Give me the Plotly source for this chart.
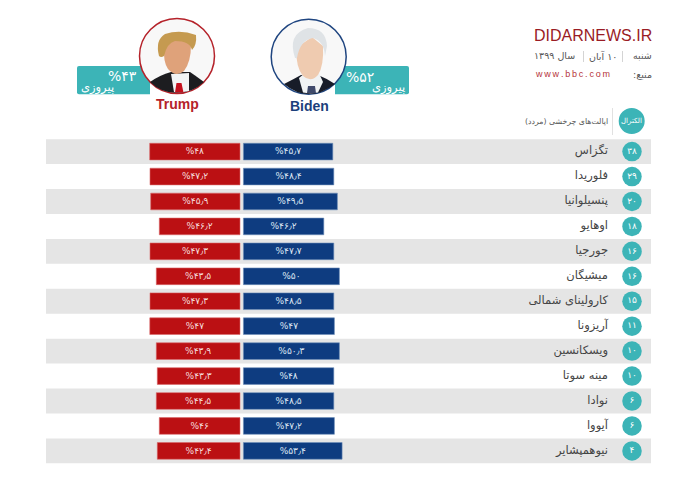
import plotly.graph_objects as go

W, H = 698, 483

states = ["تگزاس", "فلوریدا", "پنسیلوانیا", "اوهایو", "جورجیا", "میشیگان", "کارولینای شمالی",
          "آریزونا", "ویسکانسین", "مینه سوتا", "نوادا", "آیووا", "نیوهمپشایر"]
electoral = [38, 29, 20, 18, 16, 16, 15, 11, 10, 10, 6, 6, 4]
biden_labels = ["45.7", "48.4", "49.5", "46.2", "47.7", "50", "48.5", "47", "50.3", "48", "48.5", "47.2", "53.4"]
trump_labels = ["48", "47.2", "45.9", "46.2", "47.3", "43.5", "47.3", "47", "43.9", "43.3", "44.5", "46", "42.4"]
# Drawn bar lengths (they do not scale with the printed numbers)
biden_bars = [89.4, 90.4, 94, 80.4, 90.4, 96, 90.4, 91, 96, 90.4, 90.4, 91, 98.7]
trump_bars = [90.3, 90, 89.3, 80.7, 90, 83.7, 90, 90.2, 83.7, 82.7, 83.7, 80.7, 82.7]

RED, BLUE, TEAL, BAND = "#bb1013", "#0e3c80", "#3cb4b7", "#e5e5e5"
FA = "DejaVu Sans"
LAT = "Liberation Sans"


def fa(s):
    return str(s).translate(str.maketrans("0123456789", "۰۱۲۳۴۵۶۷۸۹")).replace(".", "٫")


ZERO = 241.7      # px position of the axis zero
ROW0, STEP = 151.6, 24.94
GAP = 1.7


def px(x):
    return x / W


def py(y):
    return 1 - y / H


def path(cmds):
    out = []
    for c in cmds:
        if isinstance(c, str):
            out.append(c)
        else:
            out.append(f"{px(c[0]):.5f},{py(c[1]):.5f}")
    return " ".join(out)


def pshape(cmds, fill, line=None, lw=0):
    return dict(type="path", xref="paper", yref="paper", path=path(cmds), fillcolor=fill,
                line=dict(color=line or fill, width=lw), layer="above")


def circle(cx, cy, r, fill, line=None, lw=0, layer="above"):
    return dict(type="circle", xref="paper", yref="paper", x0=px(cx - r), x1=px(cx + r),
                y0=py(cy + r), y1=py(cy - r), fillcolor=fill, line=dict(color=line or fill, width=lw), layer=layer)


def rect(x0, y0, x1, y1, fill, layer="below"):
    return dict(type="rect", xref="paper", yref="paper", x0=px(x0), x1=px(x1), y0=py(y1), y1=py(y0),
                fillcolor=fill, line=dict(width=0), layer=layer)


def text(x, y, s, size, color, anchor="center", font=FA, bold=False):
    return dict(xref="paper", yref="paper", x=px(x), y=py(y), text=f"<b>{s}</b>" if bold else s, showarrow=False,
                xanchor=anchor, yanchor="middle", align=anchor if anchor != "center" else "center",
                font=dict(size=size, color=color, family=font), borderpad=0, borderwidth=0)


fig = go.Figure()
fig.add_bar(y=states, x=[-v for v in trump_bars], base=-GAP, orientation="h", width=0.67,
            marker=dict(color=RED, line=dict(color="#d9686a", width=0.6)),
            text=["%" + fa(v) for v in trump_labels], textposition="inside", insidetextanchor="middle",
            textangle=0, textfont=dict(color="#f5dcdc", size=11, family=FA), hoverinfo="skip", cliponaxis=False)
fig.add_bar(y=states, x=biden_bars, base=GAP, orientation="h", width=0.67,
            marker=dict(color=BLUE, line=dict(color="#6f8fb8", width=0.6)),
            text=["%" + fa(v) for v in biden_labels], textposition="inside", insidetextanchor="middle",
            textangle=0, textfont=dict(color="#dbe5f2", size=11, family=FA), hoverinfo="skip", cliponaxis=False)
fig.add_scatter(y=states, x=[632 - ZERO] * len(states), mode="markers+text",
                marker=dict(size=19.5, color=TEAL), text=[fa(v) for v in electoral], textposition="middle center",
                textfont=dict(color="white", size=9, family=FA), hoverinfo="skip")
fig.add_scatter(y=states, x=[608 - ZERO] * len(states), mode="text", text=states, textposition="middle left",
                textfont=dict(color="#444444", size=11.5, family=FA), hoverinfo="skip")

shapes = []
for i in range(0, len(states), 2):
    c = ROW0 + STEP * i
    shapes.append(rect(46, c - 12.4, 651, c + 12.4, BAND))
shapes.append(rect(612, 108, 612.7, 135, "#d5d5d5"))

# Teal tabs
shapes.append(pshape(["M", (79, 66), "L", (150, 66), "L", (150, 94.3), "L", (79, 94.3), "Q", (77, 94.3), (77, 92.3),
                      "L", (77, 68), "Q", (77, 66), (79, 66), "Z"], TEAL))
shapes.append(pshape(["M", (335, 66), "L", (407, 66), "Q", (409, 66), (409, 68), "L", (409, 92.3), "Q", (409, 94.3), (407, 94.3),
                      "L", (335, 94.3), "Z"], TEAL))

# Trump portrait
tx, ty = 177, 56
shapes.append(circle(tx, ty, 37.5, "#f8f8f8", "#b5222a", 1.5))
shapes.append(pshape(["M", (150, 82), "Q", (160, 75), (171, 72), "L", (190, 72), "Q", (196, 76), (204, 82),
                      "Q", (192, 93), (177, 93), "Q", (161, 93), (150, 82), "Z"], "#1d1d20"))
shapes.append(pshape(["M", (171, 74), "L", (189, 73), "L", (189, 91), "Q", (180, 93), (174, 92), "Z"], "#f2f4f4"))
shapes.append(pshape(["M", (176.5, 83), "L", (181.5, 83), "L", (183.5, 92.5), "L", (175, 92.5), "Z"], "#c4121f"))
shapes.append(pshape(["M", (164, 46), "Q", (163, 62), (168, 69), "Q", (176, 78), (184, 71), "Q", (191, 62), (191, 45),
                      "L", (180, 36), "Z"], "#dfa27a"))
shapes.append(pshape(["M", (159, 56), "Q", (155, 40), (165, 34), "Q", (180, 29), (196, 35), "Q", (197, 45), (192, 50),
                      "Q", (190, 41), (175, 41), "Q", (167, 43), (164, 56), "Q", (161, 58), (159, 56), "Z"], "#c59a50"))

# Biden portrait
bx, by = 308.7, 56.7
shapes.append(circle(bx, by, 37.5, "#f8f8f8", "#1f4580", 1.5))
shapes.append(pshape(["M", (284, 84), "Q", (294, 79), (301, 75), "L", (318, 75), "Q", (328, 79), (335, 84),
                      "Q", (322, 94), (309, 94), "Q", (296, 94), (284, 84), "Z"], "#171c28"))
shapes.append(pshape(["M", (299, 78), "L", (305, 73), "L", (319, 73), "L", (323, 82), "L", (318, 92.5), "Q", (310, 94), (303, 92.5), "Z"], "#f0f3f4"))
shapes.append(pshape(["M", (308, 86), "L", (315, 86), "L", (316, 93), "L", (307, 93), "Z"], "#3f4a6b"))
shapes.append(pshape(["M", (296, 48), "Q", (296, 68), (303, 76), "Q", (311, 83), (318, 75), "Q", (324, 66), (323, 46),
                      "L", (312, 37), "Z"], "#efcbb0"))
shapes.append(pshape(["M", (295, 58), "Q", (287, 34), (308, 28), "Q", (326, 28), (327, 46), "L", (325, 56), "Q", (324, 41), (313, 38),
                      "Q", (300, 40), (297, 58), "Z"], "#dfe3e6"))

# Header badge
shapes.append(circle(631.7, 121, 13, TEAL))
# Date separators
shapes.append(rect(622.5, 51, 623, 62, "#aaaaaa"))
shapes.append(rect(583, 51, 583.5, 62, "#aaaaaa"))

ann = [
    text(122, 76, "%" + fa(43), 14, "white", font=FA),
    text(97, 87, "پیروزی", 11.5, "white"),
    text(360, 77, "%" + fa(52), 14, "white"),
    text(388, 87, "پیروزی", 11.5, "white"),
    text(177, 104, "Trump", 14, "#b5222a", font=LAT, bold=True),
    text(309, 105.5, "Biden", 14, "#1c3f7c", font=LAT, bold=True),
    text(652, 35.5, "DIDARNEWS.IR", 16, "#9a1c25", "right", font=LAT),
    text(652, 56, "شنبه", 9.5, "#555555", "right"),
    text(617, 56, "\u200f" + fa("10") + " آبان", 9.5, "#555555", "right"),
    text(575, 56, "سال " + fa("1399"), 9.5, "#555555", "right"),
    text(652, 74, "منبع:\u200f", 9.5, "#555555", "right"),
    text(572, 74, "\u2009".join("www.bbc.com"), 9, "#b5333a", font=LAT),
    text(631.7, 121, "الکترال", 7, "white"),
    text(608, 121, "ایالت‌های چرخشی (مردد)\u200f", 7.8, "#555555", "right"),
]

fig.update_layout(
    width=W, height=H, autosize=False,
    margin=dict(l=0, r=0, t=0, b=0),
    paper_bgcolor="white", plot_bgcolor="white",
    barmode="overlay", showlegend=False,
    xaxis=dict(range=[-ZERO, W - ZERO], visible=False, fixedrange=True),
    yaxis=dict(type="category", categoryorder="array", categoryarray=states,
               range=[(H - ROW0) / STEP, -ROW0 / STEP], visible=False, fixedrange=True),
    shapes=shapes, annotations=ann,
)
fig.write_html("out.html", config=dict(displayModeBar=False),
               post_script="document.body.style.margin='0';document.body.style.overflow='hidden';")
